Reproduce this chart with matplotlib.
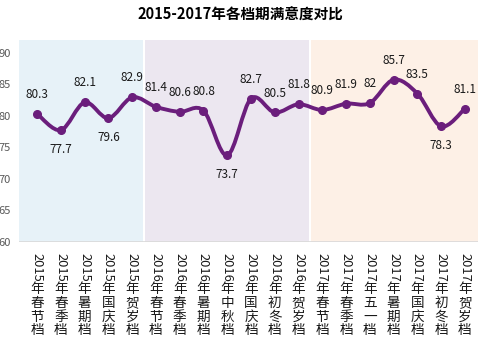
import numpy as np
import matplotlib.pyplot as plt
from matplotlib.path import Path
from matplotlib.patches import PathPatch

plt.rcParams['font.family'] = ['Noto Sans CJK SC', 'DejaVu Sans']

categories = ['2015年春节档', '2015年春季档', '2015年暑期档', '2015年国庆档', '2015年贺岁档',
              '2016年春节档', '2016年春季档', '2016年暑期档', '2016年中秋档', '2016年国庆档',
              '2016年初冬档', '2016年贺岁档',
              '2017年春节档', '2017年春季档', '2017年五一档', '2017年暑期档', '2017年国庆档',
              '2017年初冬档', '2017年贺岁档']
scores = [80.3, 77.7, 82.1, 79.6, 82.9,
          81.4, 80.6, 80.8, 73.7, 82.7, 80.5, 81.8,
          80.9, 81.9, 82, 85.7, 83.5, 78.3, 81.1]
below = [False, True, False, True, False,
         False, False, False, True, False, False, False,
         False, False, False, False, False, True, False]
yticks = [60, 65, 70, 75, 80, 85, 90]

line_color = '#6B1E7C'
band_colors = ['#E7F2F8', '#ECE7F0', '#FDF0E6']
band_spans = [(-0.76, 4.44), (4.54, 11.44), (11.52, 18.6)]

fig = plt.figure(figsize=(4.81, 3.46), dpi=100)
ax = fig.add_axes([19 / 481, 1 - 241.7 / 346, 459 / 481, (241.7 - 40) / 346])

x = np.arange(len(scores))
ax.set_xlim(-0.76, 18.55)
ax.set_ylim(60, 92)

for (a, b), c in zip(band_spans, band_colors):
    ax.axvspan(a, b, color=c, lw=0, zorder=0)
ax.axhline(60, color='#D9D9D9', lw=1.2, zorder=1)

# smoothed line (Catmull-Rom -> cubic bezier)
pts = np.column_stack([x, scores]).astype(float)
ext = np.vstack([pts[0], pts, pts[-1]])
verts = [pts[0]]
codes = [Path.MOVETO]
for i in range(len(pts) - 1):
    p0, p1, p2, p3 = ext[i], ext[i + 1], ext[i + 2], ext[i + 3]
    verts += [p1 + (p2 - p0) / 6, p2 - (p3 - p1) / 6, p2]
    codes += [Path.CURVE4] * 3
ax.add_patch(PathPatch(Path(verts, codes), fill=False, ec=line_color, lw=2.8,
                       capstyle='round', joinstyle='round', zorder=3))
ax.plot(x, scores, 'o', color=line_color, ms=5.5, zorder=4)

for xi, v, b in zip(x, scores, below):
    ax.annotate(f'{v:g}', (xi, v), xytext=(0, -14 if b else 14), textcoords='offset points',
                ha='center', va='center', fontsize=8.5, color='#1a1a1a', zorder=5)

ax.set_yticks(yticks)
ax.set_yticklabels([str(t) for t in yticks], fontsize=8, color='#595959')
ax.tick_params(axis='y', length=0, pad=6)
ax.set_xticks([])
for s in ax.spines.values():
    s.set_visible(False)

# vertical category labels: year rotated, characters upright
for xi, cat in zip(x, categories):
    ax.annotate(cat[:4], (xi, 0), xycoords=('data', 'axes fraction'),
                xytext=(0, -8.1), textcoords='offset points', rotation=270,
                ha='center', va='top', fontsize=9.3, color='#1a1a1a')
    for k, ch in enumerate(cat[4:]):
        ax.annotate(ch, (xi, 0), xycoords=('data', 'axes fraction'),
                    xytext=(0, -34.0 - 9.95 * k), textcoords='offset points',
                    ha='center', va='center', fontsize=9.8, color='#1a1a1a')

fig.text(0.5, 1 - 15 / 346, '2015-2017年各档期满意度对比', ha='center', va='center',
         fontsize=10.5, fontweight='bold', color='#000000')

fig.savefig('out.png', dpi=100)
